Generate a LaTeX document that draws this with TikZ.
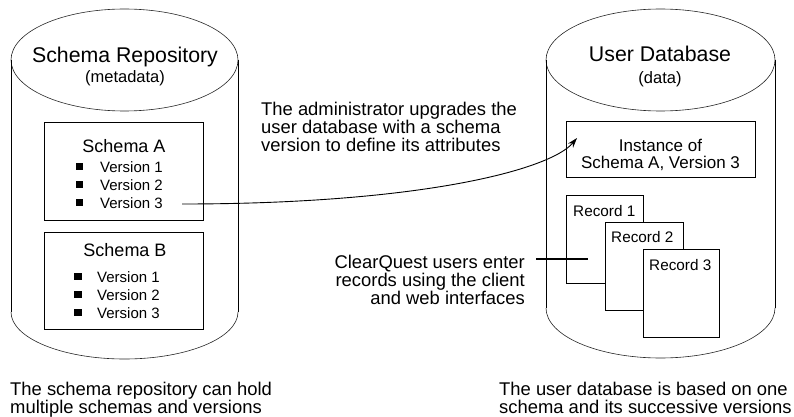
\documentclass[tikz,border=0pt]{standalone}
\usepackage{fontspec}
\setmainfont{Liberation Sans}
\usetikzlibrary{arrows.meta}
\newcommand\fsz[2]{\fontsize{#1}{#2}\selectfont}
\begin{document}
\begin{tikzpicture}[x=1pt,y=-1pt,
  rim/.style={line width=0.6pt, draw=black!85},
  side/.style={line width=0.8pt},
  box/.style={draw, line width=0.8pt, fill=white, inner sep=0pt, anchor=north west},
  titletxt/.style={font=\fsz{21.3}{24}, inner sep=0pt, anchor=base},
  subtxt/.style={font=\fsz{16.5}{18}, inner sep=0pt, anchor=base},
  schematxt/.style={font=\fsz{18}{20}, inner sep=0pt, anchor=base},
  vertxt/.style={font=\fsz{15}{17}, inner sep=0pt, anchor=base west},
  rectxt/.style={font=\fsz{15.3}{17}, inner sep=0pt, anchor=base west},
  insttxt/.style={font=\fsz{17}{16.7}, inner sep=0pt, anchor=base, align=center},
  bodytxt/.style={font=\fsz{18.4}{18}, inner sep=0pt},
  bul/.style={fill=black, inner sep=0pt, minimum size=7.2pt},
  conn/.style={line width=0.9pt},
  cqline/.style={line width=1.6pt}
]
\useasboundingbox (0,0) rectangle (794,417);

% left cylinder
\draw[rim] (124.5,60) ellipse [x radius=113.5pt, y radius=51pt];
\draw[side] (11,60) -- (11,312);
\draw[side] (238,60) -- (238,312);
\draw[rim] (11,312) arc[start angle=180, end angle=360, x radius=113.5pt, y radius=47pt];

% right cylinder
\draw[rim] (660.5,60) ellipse [x radius=114.5pt, y radius=51pt];
\draw[side] (546,60) -- (546,308);
\draw[side] (775,60) -- (775,308);
\draw[rim] (546,308) arc[start angle=180, end angle=360, x radius=114.5pt, y radius=50pt];

% titles
\node[titletxt] (srtitle) at (125,63) {Schema Repository};
\node[subtxt] (srsub) at (125,83) {(metadata)};
\node[titletxt] (udtitle) at (660,62) {User Database};
\node[subtxt] (udsub) at (660,84) {(data)};

% Schema A
\node[box, minimum width=159pt, minimum height=98pt] (schA) at (44,122) {};
\node[schematxt] (schAlbl) at (124,152) {Schema A};
\node[bul] (ba1) at (79.5,166.5) {};
\node[bul] (ba2) at (79.5,184.5) {};
\node[bul] (ba3) at (79.5,202.5) {};
\node[vertxt] (va1) at (100,172) {Version 1};
\node[vertxt] (va2) at (100,190) {Version 2};
\node[vertxt] (va3) at (100,208) {Version 3};

% Schema B
\node[box, minimum width=159pt, minimum height=97pt] (schB) at (44,232) {};
\node[schematxt] (schBlbl) at (125,256) {Schema B};
\node[bul] (bb1) at (78,276.5) {};
\node[bul] (bb2) at (78,294.5) {};
\node[bul] (bb3) at (78,312.5) {};
\node[vertxt] (vb1) at (97,282) {Version 1};
\node[vertxt] (vb2) at (97,300) {Version 2};
\node[vertxt] (vb3) at (97,318) {Version 3};

% Instance box
\node[box, minimum width=189pt, minimum height=56pt] (inst) at (566,121) {};
\node[insttxt] (instlbl) at (660.5,168) {Instance of\\Schema A, Version 3};

% Records
\node[box, minimum width=77pt, minimum height=88pt] (rec1) at (566,195) {};
\node[rectxt] (rec1lbl) at (573,216) {Record 1};
\node[box, minimum width=78pt, minimum height=88pt] (rec2) at (605,222) {};
\node[rectxt] (rec2lbl) at (611,242) {Record 2};
\node[box, minimum width=76pt, minimum height=88pt] (rec3) at (643,249) {};
\node[rectxt] (rec3lbl) at (649,270) {Record 3};

% annotations (anchor = baseline of the last line)
\node[bodytxt, align=left, anchor=base west] (admin) at (261,151)
  {The administrator upgrades the\\user database with a schema\\version to define its attributes};
\node[bodytxt, align=right, anchor=base east] (cqtxt) at (525,304)
  {ClearQuest users enter\\records using the client\\and web interfaces};
\node[bodytxt, align=left, anchor=base west] (leftnote) at (10,413)
  {The schema repository can hold\\multiple schemas and versions};
\node[bodytxt, align=left, anchor=base west] (rightnote) at (499,413)
  {The user database is based on one\\schema and its successive versions};

% connectors
\coordinate (arrS) at (182,204);
\coordinate (arrE) at (577,138);
\draw[conn, -{Stealth[length=10pt, width=6.5pt]}] (arrS) .. controls (420,204) and (550,170) .. (arrE);
\coordinate (cqA) at (536,259);
\coordinate (cqB) at (588,259);
\draw[cqline] (cqA) -- (cqB);
\end{tikzpicture}
\end{document}
